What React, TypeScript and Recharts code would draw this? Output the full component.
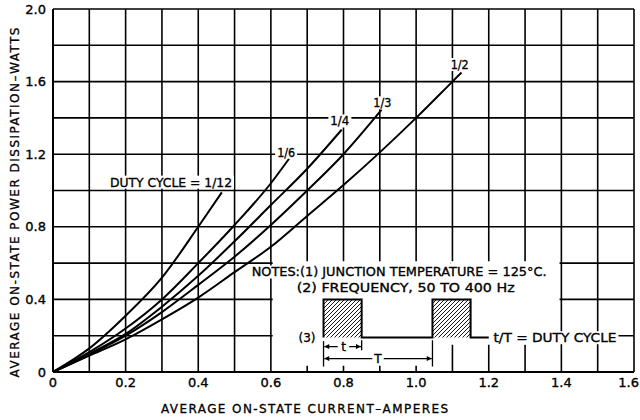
import React from 'react';
import {
  LineChart,
  Line,
  XAxis,
  YAxis,
  CartesianGrid,
  ReferenceArea,
  ReferenceLine,
  ReferenceDot,
} from 'recharts';

// ---------- axis ticks ----------
const xTicks = [0, 0.1, 0.2, 0.3, 0.4, 0.5, 0.6, 0.7, 0.8, 0.9, 1.0, 1.1, 1.2, 1.3, 1.4, 1.5, 1.6];
const xTickLabels = ['0', '', '0.2', '', '0.4', '', '0.6', '', '0.8', '', '1.0', '', '1.2', '', '1.4', '', '1.6'];
const yTicks = [0, 0.2, 0.4, 0.6, 0.8, 1.0, 1.2, 1.4, 1.6, 1.8, 2.0];
const yTickLabels = ['0', '', '0.4', '', '0.8', '', '1.2', '', '1.6', '', '2.0'];

// ---------- curves: average on-state current (A) vs power (W) ----------
const current12 = [0, 0.1, 0.2, 0.3, 0.4, 0.465];
const power12 = [0, 0.13, 0.31, 0.52, 0.8, 0.99];

const current6 = [0, 0.1, 0.2, 0.3, 0.4, 0.5, 0.6, 0.65];
const power6 = [0, 0.11, 0.24, 0.4, 0.6, 0.81, 1.04, 1.175];

const current4 = [0, 0.1, 0.2, 0.3, 0.4, 0.5, 0.6, 0.7, 0.795];
const power4 = [0, 0.1, 0.21, 0.36, 0.53, 0.72, 0.92, 1.12, 1.335];

const current3 = [0, 0.1, 0.2, 0.3, 0.4, 0.5, 0.6, 0.7, 0.8, 0.905];
const power3 = [0, 0.095, 0.2, 0.33, 0.48, 0.635, 0.81, 1.0, 1.2, 1.445];

const current2 = [0, 0.1, 0.2, 0.3, 0.4, 0.5, 0.6, 0.7, 0.8, 0.9, 1.0, 1.1, 1.125];
const power2 = [0, 0.09, 0.18, 0.29, 0.41, 0.55, 0.69, 0.86, 1.03, 1.21, 1.4, 1.6, 1.65];

// ---------- duty-cycle waveform sketch (notes item 3) ----------
const waveX = [0.745, 0.745, 0.85, 0.85, 1.045, 1.045, 1.15, 1.15, 1.2];
const waveY = [0.19, 0.4, 0.4, 0.19, 0.19, 0.4, 0.4, 0.19, 0.19];

const zip = (xs: number[], ys: number[]) => xs.map((x, i) => ({ x, y: ys[i] }));

const data12 = zip(current12, power12);
const data6 = zip(current6, power6);
const data4 = zip(current4, power4);
const data3 = zip(current3, power3);
const data2 = zip(current2, power2);
const waveData = zip(waveX, waveY);

const FONT = '"DejaVu Sans", "Liberation Sans", sans-serif';

type TxtOpts = { anchor?: 'start' | 'middle' | 'end'; len?: number; size?: number; adjust?: string };

const txt = (key: string, x: number, y: number, text: string, o: TxtOpts = {}) => (
  <ReferenceDot
    key={key}
    x={x}
    y={y}
    r={0}
    fill="none"
    stroke="none"
    ifOverflow="visible"
    zIndex={2500}
    label={(p: any) => {
      const vb = (p && p.viewBox) || p || {};
      const cx = (vb.x ?? 0) + (vb.width ?? 0) / 2;
      const cy = (vb.y ?? 0) + (vb.height ?? 0) / 2;
      const size = o.size ?? 13;
      const anchor = o.anchor ?? 'start';
      const w = o.len ?? size * 0.62 * text.length;
      const left = anchor === 'start' ? cx : anchor === 'middle' ? cx - w / 2 : cx - w;
      return (
        <g>
          <rect x={left - 2} y={cy - size * 0.5} width={w + 4} height={size} fill="#fff" stroke="none" />
          <text
            x={cx}
            y={cy}
            textAnchor={anchor}
            dominantBaseline="central"
            fontFamily={FONT}
            fontSize={size}
            fill="#000"
            stroke="#000"
            strokeWidth={0.35}
            textLength={o.len}
            lengthAdjust={(o.adjust ?? 'spacingAndGlyphs') as any}
          >
            {text}
          </text>
        </g>
      );
    }}
  />
);

const XTick = (props: any) => {
  const { x, y, index } = props;
  const label = xTickLabels[index] ?? '';
  if (!label) return null;
  const last = index === xTicks.length - 1;
  return (
    <text
      x={last ? x + 5 : x}
      y={y}
      dy="0.71em"
      textAnchor={last ? 'end' : 'middle'}
      fontFamily={FONT}
      fontSize={13}
      fill="#000"
      stroke="#000"
      strokeWidth={0.35}
    >
      {label}
    </text>
  );
};

const lineStyle = { stroke: '#000', strokeWidth: 2, dot: false, isAnimationActive: false, type: 'monotone' as const };

export default function App() {
  return (
    <div style={{ position: 'absolute', left: 0, top: 0, background: '#fff' }}>
      <LineChart width={640} height={420} margin={{ top: 9, right: 6, bottom: 28, left: 8 }}>
        <defs>
          <pattern id="hatch" patternUnits="userSpaceOnUse" width="4" height="4">
            <path d="M-1,1 l2,-2 M0,4 l4,-4 M3,5 l2,-2" stroke="#000" strokeWidth="0.9" />
          </pattern>
          <marker
            id="arrow"
            viewBox="0 0 10 10"
            refX="10"
            refY="5"
            markerWidth="8"
            markerHeight="5"
            markerUnits="userSpaceOnUse"
            orient="auto-start-reverse"
          >
            <path d="M0,0 L10,5 L0,10 z" fill="#000" />
          </marker>
        </defs>
        <CartesianGrid stroke="#000" strokeWidth={1.6} strokeOpacity={1} />
        {/* blank panel holding the notes */}
        <ReferenceArea x1={0.605} x2={1.095} y1={0.035} y2={0.61} fill="#fff" fillOpacity={1} stroke="none" />
        <ReferenceArea x1={1.095} x2={1.395} y1={0.15} y2={0.61} fill="#fff" fillOpacity={1} stroke="none" />
        {/* hatched pulses */}
        <ReferenceArea x1={0.745} x2={0.85} y1={0.19} y2={0.4} fill="url(#hatch)" fillOpacity={1} stroke="none" />
        <ReferenceArea x1={1.045} x2={1.15} y1={0.19} y2={0.4} fill="url(#hatch)" fillOpacity={1} stroke="none" />
        <XAxis
          type="number"
          dataKey="x"
          domain={[0, 1.6]}
          ticks={xTicks}
          interval={0}
          allowDataOverflow
          tickLine={false}
          tickSize={4}
          tickMargin={2}
          height={20}
          axisLine={{ stroke: '#000', strokeWidth: 2 }}
          tick={<XTick />}
          label={(p: any) => {
            const vb = (p && p.viewBox) || {};
            return (
              <text
                x={(vb.x ?? 53) + 108}
                y={(vb.y ?? 372) + 37}
                dominantBaseline="central"
                fontFamily={FONT}
                fontSize={12}
                fill="#000"
                stroke="#000"
                strokeWidth={0.3}
                textLength={287}
                lengthAdjust="spacing"
              >
                AVERAGE ON-STATE CURRENT–AMPERES
              </text>
            );
          }}
        />
        <YAxis
          type="number"
          domain={[0, 2]}
          ticks={yTicks}
          interval={0}
          allowDataOverflow
          tickFormatter={(_v: number, i: number) => yTickLabels[i]}
          tickLine={false}
          tickSize={5}
          tickMargin={2}
          width={45}
          axisLine={{ stroke: '#000', strokeWidth: 2 }}
          tick={{ fontSize: 13, fill: '#000', fontFamily: FONT, stroke: '#000', strokeWidth: 0.35 }}
          label={(p: any) => {
            const vb = (p && p.viewBox) || {};
            const x = (vb.x ?? 8) + 7;
            const y = (vb.y ?? 9) + (vb.height ?? 362) / 2 + 12;
            return (
              <text
                x={x}
                y={y}
                transform={`rotate(-90 ${x} ${y})`}
                textAnchor="middle"
                dominantBaseline="central"
                fontFamily={FONT}
                fontSize={12}
                fill="#000"
                stroke="#000"
                strokeWidth={0.3}
                textLength={350}
                lengthAdjust="spacing"
              >
                AVERAGE ON-STATE POWER DISSIPATION–WATTS
              </text>
            );
          }}
        />
        <Line data={data12} dataKey="y" {...lineStyle} />
        <Line data={data6} dataKey="y" {...lineStyle} />
        <Line data={data4} dataKey="y" {...lineStyle} />
        <Line data={data3} dataKey="y" {...lineStyle} />
        <Line data={data2} dataKey="y" {...lineStyle} />
        <Line data={waveData} dataKey="y" stroke="#000" strokeWidth={2} dot={false} isAnimationActive={false} type="linear" />

        {/* dimension lines for t and T */}
        <ReferenceLine segment={[{ x: 0.745, y: 0.03 }, { x: 0.745, y: 0.17 }]} stroke="#000" strokeWidth={1.3} />
        <ReferenceLine segment={[{ x: 0.85, y: 0.12 }, { x: 0.85, y: 0.175 }]} stroke="#000" strokeWidth={1.3} />
        <ReferenceLine segment={[{ x: 1.045, y: 0.03 }, { x: 1.045, y: 0.175 }]} stroke="#000" strokeWidth={1.3} />
        <ReferenceLine
          segment={[{ x: 0.747, y: 0.14 }, { x: 0.848, y: 0.14 }]}
          stroke="#000"
          strokeWidth={1.3}
          markerStart="url(#arrow)"
          markerEnd="url(#arrow)"
        />
        <ReferenceLine
          segment={[{ x: 0.747, y: 0.074 }, { x: 1.043, y: 0.074 }]}
          stroke="#000"
          strokeWidth={1.3}
          markerStart="url(#arrow)"
          markerEnd="url(#arrow)"
        />

        {/* curve labels */}
        {txt('l12', 0.325, 1.046, 'DUTY CYCLE = 1/12', { anchor: 'middle', len: 122 })}
        {txt('l6', 0.642, 1.212, '1/6', { anchor: 'middle', len: 18 })}
        {txt('l4', 0.79, 1.383, '1/4', { anchor: 'middle', len: 19 })}
        {txt('l3', 0.907, 1.483, '1/3', { anchor: 'middle', len: 18 })}
        {txt('l2', 1.12, 1.694, '1/2', { anchor: 'middle', len: 18 })}

        {/* notes */}
        {txt('n1', 0.547, 0.551, 'NOTES:(1)  JUNCTION TEMPERATURE = 125°C.', { len: 295 })}
        {txt('n2', 0.671, 0.468, '(2)  FREQUENCY, 50 TO 400 Hz', { len: 218 })}
        {txt('n3', 0.676, 0.189, '(3)', { len: 17, size: 13 })}
        {txt('n4', 1.213, 0.189, 't/T = DUTY CYCLE', { len: 123 })}
        {txt('nt', 0.8, 0.14, 't', { anchor: 'middle', size: 12 })}
        {txt('nT', 0.895, 0.074, 'T', { anchor: 'middle', size: 12 })}
      </LineChart>
    </div>
  );
}
